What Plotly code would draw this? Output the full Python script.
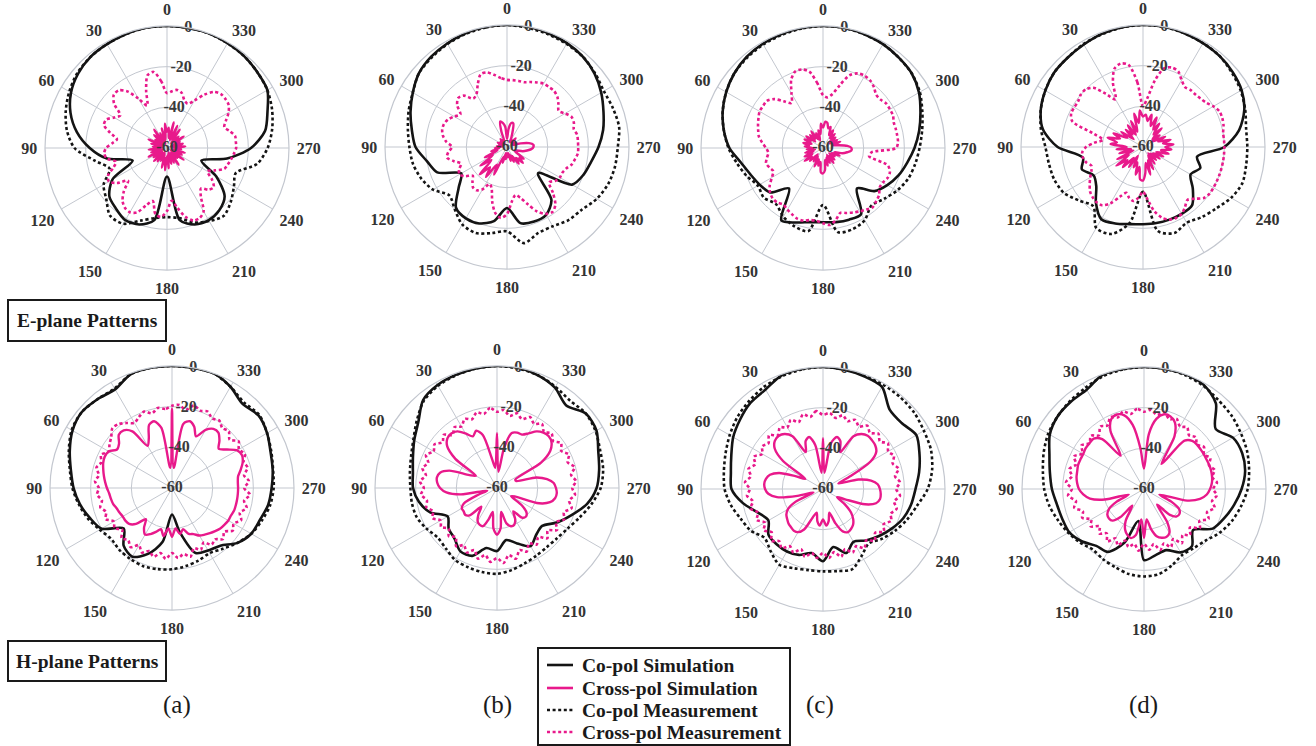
import plotly.graph_objects as go

# ---------------- data ----------------
TH10 = list(range(0, 360, 10))   # co-pol sampling (deg)
TH5 = list(range(0, 360, 5))     # cross-pol sampling (deg)
ANGLE_TICKS = list(range(0, 360, 30))
ANGLE_LABELS = [str(a) for a in ANGLE_TICKS]
RADIAL_TICKS = [-60, -40, -20, 0]
RADIAL_LABELS = ["-60", "-40", "-20", "0"]
RADIAL_LABEL_THETA = 350          # radial labels sit on a spoke 10 deg right of 0
R_RANGE = [-60, 0]
SERIES_NAMES = ["Co-pol Simulation", "Cross-pol Simulation", "Co-pol Measurement", "Cross-pol Measurement"]
PANEL_LABELS = ["(a)", "(b)", "(c)", "(d)"]
ROW_TITLES = ["E-plane Patterns", "H-plane Patterns"]

# ---- E-plane ----
E_A_CO_SIM = [0, 0, -0.5, -1, -1.5, -3, -5.5, -9.5, -15, -22, -30, -42, -29, -23, -21, -19, -20, -24, -46, -24,
              -20, -19, -20, -23, -32, -42, -30, -18.7, -11, -7.4, -3, -2, -1, -0.5, 0, 0]
E_A_CO_MEAS = [0, 0, -0.5, -1, -1.5, -2.5, -4.5, -7, -10, -14.5, -24, -30, -24, -21, -16.5, -17, -22, -25, -26, -25,
               -21, -18.5, -16.5, -19, -22, -24, -15, -10.5, -7.5, -5, -3, -2, -1, -0.5, 0, 0]
E_A_X_SIM = [-52, -48, -56, -50, -58, -52, -57, -49, -55, -51, -58, -53,
             -56, -50, -57, -52, -58, -53, -56, -51, -57, -52, -58, -50,
             -55, -52, -57, -51, -56, -52, -58, -53, -57, -50, -55, -49,
             -56, -50, -57, -52, -58, -52, -56, -50, -57, -53, -55, -50,
             -58, -52, -56, -51, -57, -53, -55, -51, -57, -52, -58, -53,
             -55, -50, -56, -52, -57, -49, -55, -48, -56, -47, -55, -50]
E_A_X_MEAS = [-33, -27, -22, -23, -30, -37, -32, -26, -23, -23, -26, -32,
              -30, -27, -27, -31, -35, -33, -30, -29, -30, -34, -32, -28,
              -27, -30, -35, -30, -26, -24, -23.5, -25, -30, -33, -27, -26,
              -29, -34, -30, -25, -22, -22, -24, -31, -34, -31, -30, -33,
              -37, -34, -30, -29, -28, -27, -26, -26, -26, -28, -30, -28,
              -25, -23, -22.5, -22.5, -24, -28, -33, -36, -35, -32, -31, -32]

E_B_CO_SIM = [0, 0, -0.5, -1.2, -2, -3.5, -6.5, -9.5, -12.5, -15, -20, -23.5, -34, -29, -21, -19.5, -20, -23, -30, -22,
              -21, -21.5, -26, -40, -23, -20, -18, -15, -12, -9.5, -6.5, -3.8, -2, -1, -0.5, 0]
E_B_CO_MEAS = [0, -0.3, -0.8, -1.5, -2.5, -3.5, -6.5, -8.5, -10.5, -12, -13, -15, -18, -23, -20, -16, -15, -17, -18.5, -12,
               -15, -15, -13, -12, -9, -7, -6, -5.5, -4, -4.5, -5, -3.5, -2, -1.5, -1, -0.5]
E_B_X_SIM = [-56, -50, -48, -47, -52, -57, -56, -58, -55, -57, -58, -56,
             -57, -55, -57, -56, -58, -55, -57, -54, -56, -52, -55, -48,
             -52, -44, -50, -41, -47, -42, -50, -45, -55, -52, -57, -54,
             -56, -55, -57, -53, -56, -52, -55, -50, -53, -49, -52, -50,
             -55, -56, -55, -52, -50, -48, -47, -47, -49, -53, -57, -55,
             -57, -56, -57, -54, -57, -56, -57, -55, -52, -48, -48, -51]
E_B_X_MEAS = [-27, -26, -24, -22, -22, -26, -30, -31, -27, -26, -28, -32,
              -30, -28, -27, -27, -28, -30, -33, -31, -30, -33, -36, -34,
              -33, -35, -38, -36, -34, -34, -36, -40, -38, -32, -27, -25,
              -27, -33, -36, -34, -30, -25, -22, -21, -23, -28, -33, -31,
              -30, -30, -29, -27, -26, -25, -25, -25, -25, -26, -25, -25,
              -27, -29, -27, -25, -24, -24, -24, -25, -26, -27, -27, -27]

E_C_CO_SIM = [0, 0, -0.3, -0.8, -1.5, -3, -5, -7.5, -10.5, -14, -19, -22, -24, -26, -34, -19, -21, -23, -23.5, -23,
              -22.5, -22.5, -34, -27, -23.5, -20.5, -18, -15, -12, -9, -5.5, -3, -2, -1, -0.5, 0]
E_C_CO_MEAS = [0, -0.3, -0.8, -1.2, -2, -3, -5, -7.5, -10.5, -13.5, -17, -20, -23, -22, -24, -21, -19, -18.5, -32, -18,
               -17.5, -19, -23, -21, -18, -15.5, -14, -12.5, -10.5, -8, -5, -3, -2, -1, -0.5, 0]
E_C_X_SIM = [-50, -48, -53, -51, -56, -52, -55, -50, -54, -51, -55, -50,
             -53, -50, -54, -50, -53, -51, -55, -52, -56, -51, -55, -50,
             -54, -49, -53, -51, -56, -52, -55, -50, -54, -51, -53, -48,
             -47.5, -49, -54, -51, -55, -52, -56, -51, -55, -52, -56, -53,
             -55, -51, -54, -50, -48, -46, -46, -48, -52, -55, -51, -55,
             -52, -56, -52, -55, -51, -54, -50, -53, -49, -50, -47.5, -47]
E_C_X_MEAS = [-34, -28, -22, -20, -20, -23, -29, -33, -30, -26, -24, -24,
              -24, -25, -26, -27, -28, -30, -32, -33, -32, -31, -32, -33,
              -31, -28, -26, -25, -25, -26, -25, -24, -23, -23, -24, -24,
              -23, -22, -24, -27, -26, -25, -24, -23, -22, -23, -24, -26,
              -26, -25, -25, -27, -37, -36, -24, -23, -23, -23, -23, -22,
              -22, -22, -23, -23, -21, -19.5, -19, -19.5, -22, -28, -33, -35]

E_D_CO_SIM = [0, -0.2, -0.8, -1.8, -2.5, -3, -4.5, -6.5, -10, -18, -30, -28, -32, -30, -24, -19, -20, -21.5, -22, -22,
              -22, -22, -22.5, -28, -33, -30, -33, -20, -12, -7, -4, -2.5, -1.5, -1, -0.5, 0]
E_D_CO_MEAS = [0, -0.3, -1, -1.5, -2.5, -3, -4.5, -6.5, -9, -12, -13, -13.5, -15, -19, -22, -14, -14.5, -22, -38, -18,
               -15, -17, -15, -13, -10, -8, -8.5, -8.7, -8.5, -6.5, -4.5, -3, -1.5, -1, -0.5, 0]
E_D_X_SIM = [-45, -42, -48, -43, -52, -46, -53, -47, -52, -48, -54, -47,
             -51, -44, -48, -42, -47, -44, -52, -47, -54, -48, -55, -46,
             -52, -44, -50, -46, -53, -48, -55, -49, -52, -46, -50, -44,
             -43.5, -47, -52, -46, -53, -48, -55, -50, -56, -51, -55, -50,
             -54, -49, -53, -47, -51, -46, -49, -45, -50, -46, -52, -48,
             -55, -50, -54, -47, -52, -46, -50, -44, -49, -43.5, -47, -44]
E_D_X_MEAS = [-40, -28, -19, -17.5, -19, -25, -33, -28, -22, -20, -20, -21,
              -21, -21, -23, -35, -40, -36, -32, -30, -30, -31, -33, -32,
              -30, -28, -26, -25, -24.5, -25, -28, -33, -36, -34, -33, -35,
              -38, -34, -28, -24, -22, -21.5, -22, -24, -26, -24, -21, -20,
              -20, -20, -20, -20, -20, -20, -20, -20, -20, -19, -18.5, -18.5,
              -20, -22, -23, -23.5, -23.5, -24, -22, -19, -18.4, -20, -27, -36]

# ---- H-plane ----
H_A_CO_SIM = [0, 0, -0.5, -4, -3, -2, -3.5, -6.5, -9.5, -11.6, -14, -17, -20, -29, -23, -21, -25.5, -33, -47, -38,
              -26, -24.5, -23, -18, -15, -14, -12, -11, -9.7, -8.4, -6, -4.5, -6, -2.5, 0, 0]
H_A_CO_MEAS = [0, 0, -0.5, -3.5, -3, -2, -3, -6, -9, -11, -13.5, -16, -19, -21, -20, -19.5, -19, -19.5, -20, -21,
               -22, -23, -21, -18, -15, -13, -11, -10, -9.5, -8, -6, -4, -5, -2.5, 0, 0]
H_A_X_SIM = [-21, -50, -30, -26, -27, -33, -36, -26, -23, -23, -26, -27,
             -24, -23.5, -24, -25, -26, -27, -28, -29, -29.5, -30, -31, -31.5,
             -32, -32, -32.5, -35, -40, -36, -33.5, -35, -37, -39, -36, -40,
             -36, -40, -37, -39, -36, -35, -33, -32, -31, -30, -29, -28.5,
             -28, -28, -27.5, -27.5, -27.5, -27.5, -27.5, -27.5, -27, -25, -23, -22,
             -23, -27, -30, -27, -24.5, -24.5, -27, -32, -28, -26, -28, -50]
H_A_X_MEAS = [-19.5, -21, -20, -22, -20, -21.5, -23, -21, -19, -18.5, -21, -22.5,
              -24, -21.5, -23, -21.5, -23.5, -22, -24, -23, -25, -23.5, -25.5, -24,
              -27, -25.5, -28, -25, -26.5, -24.5, -27.5, -25, -27, -25, -27.5, -25,
              -28, -25.5, -27, -25, -28.5, -26.5, -29, -26, -27, -24.5, -26.5, -23.5,
              -25, -22.5, -24.5, -22, -24, -21.5, -24.5, -22, -24, -21.5, -22.5, -20.5,
              -22, -20, -23, -20.5, -21.5, -19.5, -20.5, -18.5, -19.5, -18, -21, -19]

H_B_CO_SIM = [0, -0.3, -0.8, -1.5, -3.5, -9.5, -13, -16, -18, -18.7, -21, -25, -32, -29, -27.5, -24, -24.5, -30, -29, -34,
              -31, -27, -30, -31, -26, -21, -15, -11, -9, -7, -3.5, -3, -7, -3, -1, 0]
H_B_CO_MEAS = [0, -0.3, -1, -2, -4, -8.5, -12.5, -15, -16.5, -17.4, -17.5, -18, -20, -22, -21, -19, -18.5, -18, -17.8, -19,
               -20.5, -21.5, -22, -21.5, -20, -17, -13, -9, -7, -6, -4, -3, -4, -2.5, -1, -0.3]
H_B_X_SIM = [-33, -50, -45, -33, -30, -32, -29, -26, -25, -25.5, -28, -35,
             -48, -45, -35, -31, -30, -30.5, -32, -35, -42, -55, -50, -42,
             -40, -40, -39.5, -41, -48, -44, -41, -40, -40, -44, -48, -40,
             -37, -40, -48, -42, -40, -40, -42, -46, -41, -40, -41, -45,
             -52, -50, -38, -33, -31, -30.5, -31, -32, -35, -40, -50, -50,
             -35, -28, -25, -24, -24.5, -26, -29, -31, -31, -32, -40, -52]
H_B_X_MEAS = [-22.5, -20.5, -23, -21.5, -24, -22.5, -25, -23.5, -26, -23, -25, -22.5,
              -24, -21.5, -24, -22, -24.5, -22, -24, -22.5, -25, -24, -26.5, -25,
              -28, -26.5, -29, -26.5, -28.5, -25, -27.5, -25, -27.5, -24, -26.5, -23.5,
              -25.5, -23, -26.5, -24, -27.5, -25.5, -28.5, -26, -28.5, -25, -27.5, -24,
              -26.5, -23.5, -25, -22, -24, -21.5, -23, -21, -23, -20.5, -23, -21,
              -23.5, -21.5, -24, -22, -24, -21.5, -23.5, -21.5, -24, -22, -24, -21.5]

H_C_CO_SIM = [0, 0, -0.5, -3.5, -4.6, -6.8, -9, -12, -14, -15, -20, -26, -29, -25, -24.5, -24.5, -25.5, -28, -24.5, -31,
              -26.5, -30, -27, -24, -21, -18, -16, -14.5, -12, -9.5, -7, -9.5, -9, -2, -1, -0.5]
H_C_CO_MEAS = [0, -0.3, -1, -2, -3.5, -5, -7, -9, -10.5, -11.6, -14, -17, -19, -22.5, -20, -17, -18.5, -19.5, -19.5, -19,
               -18, -22, -25, -22, -19, -16, -13, -8.5, -5.5, -3.5, -2.7, -1.5, -1, -0.8, -0.5, -0.3]
H_C_X_SIM = [-35, -52, -38, -33.5, -35, -40, -30, -27, -26, -26.5, -29, -36,
             -50, -45, -37, -33, -31.5, -31, -31.5, -33, -37, -47, -55, -45,
             -40, -38, -37, -36, -35.5, -35, -35.5, -38, -45, -48, -44, -42,
             -45, -42, -44, -48, -42, -37, -35.5, -36, -37, -39, -42, -47,
             -52, -48, -38, -33, -31.5, -31.5, -32, -33, -36, -42, -52, -45,
             -33, -28, -26.5, -26, -25.8, -27, -30, -40, -35, -33.5, -37, -52]
H_C_X_MEAS = [-23.5, -21.5, -24, -22, -25, -22.5, -25, -23, -25.5, -22.5, -25, -23.5,
              -25.5, -22.5, -24.5, -22, -24, -21.5, -24, -22.5, -25, -23, -26, -24,
              -27, -24.5, -27, -24, -26.5, -24.5, -27.5, -25.5, -28.5, -25.5, -28, -26,
              -28.5, -26, -28.5, -25.5, -28.5, -25.5, -27.5, -24.5, -27, -24, -26.5, -23.5,
              -25.5, -23, -24.5, -22.5, -24.5, -22, -24, -22, -24, -21.5, -23.5, -21.5,
              -23, -21, -23.5, -21.5, -24, -22, -24.5, -22.5, -24.5, -22.5, -24.5, -22.5]

H_D_CO_SIM = [0, 0, -0.3, -3.6, -4, -4.5, -6.5, -10.5, -13, -14.7, -16.5, -17.2, -17.5, -20, -23.5, -24.3, -32, -44, -25, -27,
              -28, -24, -23.3, -28.5, -21, -18, -15, -12, -9.5, -8.6, -9.5, -14, -5, -1, 0, 0]
H_D_CO_MEAS = [0, -0.3, -1, -2.5, -3.5, -4.5, -5.6, -7.5, -9.5, -10.9, -12.7, -15, -17, -19, -21, -20, -19, -17.5, -17, -17.5,
               -20, -22.5, -22, -20.5, -17, -14, -11.5, -9, -7.5, -6, -5, -3.8, -3, -1.5, -0.5, 0]
H_D_X_SIM = [-50, -40, -28, -22.5, -21, -22, -27, -40, -28, -25, -25, -25,
             -25.5, -25.5, -25.5, -26, -26.3, -27, -28, -30, -33, -40, -52, -45,
             -40, -38, -37.5, -38, -42, -50, -42, -38, -36, -35, -37, -45,
             -36, -45, -40, -36, -34.5, -34, -35, -40, -50, -42, -39, -38.7,
             -40, -45, -52, -38, -32, -29, -27.5, -26.5, -26, -25.8, -25.8, -26,
             -26, -26, -26, -26.5, -29, -45, -30, -24, -22, -22, -25, -33]
H_D_X_MEAS = [-22, -20.5, -22.5, -20.5, -22.5, -21, -24, -22.5, -25.5, -23, -25, -22.5,
              -25, -22, -24.5, -22, -24, -21.5, -24.5, -22.5, -26, -24.5, -28, -26.5,
              -30, -28, -31.5, -29, -31.5, -28.5, -32, -29.5, -33, -30.5, -32.5, -29.5,
              -33, -30, -32.5, -29, -31.5, -28.5, -31.5, -27.5, -30.5, -28, -30.5, -26.5,
              -28.5, -25, -27, -24, -26, -24, -26, -24, -26, -24, -26, -24,
              -26, -24, -26, -24, -25.5, -23, -24.5, -22, -23.5, -21, -23, -21]

PANELS = [
    (E_A_CO_SIM, E_A_X_SIM, E_A_CO_MEAS, E_A_X_MEAS),
    (E_B_CO_SIM, E_B_X_SIM, E_B_CO_MEAS, E_B_X_MEAS),
    (E_C_CO_SIM, E_C_X_SIM, E_C_CO_MEAS, E_C_X_MEAS),
    (E_D_CO_SIM, E_D_X_SIM, E_D_CO_MEAS, E_D_X_MEAS),
    (H_A_CO_SIM, H_A_X_SIM, H_A_CO_MEAS, H_A_X_MEAS),
    (H_B_CO_SIM, H_B_X_SIM, H_B_CO_MEAS, H_B_X_MEAS),
    (H_C_CO_SIM, H_C_X_SIM, H_C_CO_MEAS, H_C_X_MEAS),
    (H_D_CO_SIM, H_D_X_SIM, H_D_CO_MEAS, H_D_X_MEAS),
]

# ---------------- layout / style ----------------
W, H = 1316, 746
R_DOM = 122
CENTERS = [(167, 148), (507, 147), (823, 148), (1143, 147),
           (172, 488), (497, 488), (823, 489), (1144, 489)]
BLACK = "#141414"
PINK = "#e8198b"
GRID = "#c3c7cf"
SERIF = "Liberation Serif"
STYLES = [
    dict(color=BLACK, width=2.6, dash="solid"),
    dict(color=PINK, width=2.4, dash="solid"),
    dict(color=BLACK, width=2.6, dash="3px,2.6px"),
    dict(color=PINK, width=2.6, dash="3px,2.6px"),
]
GRIDS = [TH10, TH5, TH10, TH5]

fig = go.Figure()
layout_polars = {}
for i, (series, (cx, cy)) in enumerate(zip(PANELS, CENTERS)):
    pname = "polar" if i == 0 else f"polar{i+1}"
    for k, vals in enumerate(series):
        th = GRIDS[k] + [GRIDS[k][0] + 360]
        rr = list(vals) + [vals[0]]
        fig.add_trace(go.Scatterpolar(
            theta=th, r=rr, mode="lines", subplot=pname,
            name=SERIES_NAMES[k], showlegend=False,
            line=dict(color=STYLES[k]["color"], width=STYLES[k]["width"],
                      dash=STYLES[k]["dash"], shape="spline", smoothing=0.8),
            hoverinfo="skip"))
    # radial tick labels, centred on a spoke slightly right of 0 deg
    fig.add_trace(go.Scatterpolar(
        theta=[RADIAL_LABEL_THETA] * len(RADIAL_TICKS), r=RADIAL_TICKS, text=RADIAL_LABELS,
        mode="text", subplot=pname, showlegend=False, cliponaxis=False, hoverinfo="skip",
        textfont=dict(family=SERIF, size=16, color="#3a3a3a", weight="bold")))
    layout_polars[pname] = dict(
        domain=dict(x=[(cx - R_DOM) / W, (cx + R_DOM) / W],
                    y=[(H - cy - R_DOM) / H, (H - cy + R_DOM) / H]),
        bgcolor="white",
        angularaxis=dict(rotation=90, direction="counterclockwise",
                         tickmode="array", tickvals=ANGLE_TICKS, ticktext=ANGLE_LABELS,
                         showgrid=True, gridcolor=GRID, gridwidth=1,
                         showline=True, linecolor=GRID, linewidth=1.2,
                         ticks="outside", ticklen=4, tickcolor="rgba(0,0,0,0)",
                         tickfont=dict(family=SERIF, size=16, color="#333", weight="bold")),
        radialaxis=dict(range=R_RANGE, tickmode="array", tickvals=RADIAL_TICKS,
                        showticklabels=False, showline=False,
                        showgrid=True, gridcolor=GRID, gridwidth=1, ticks=""),
    )

fig.update_layout(**layout_polars)

shapes = []
annotations = []
# row title boxes
for title, (y0, y1) in zip(ROW_TITLES, [(300, 341), (641, 681)]):
    shapes.append(dict(type="rect", xref="paper", yref="paper",
                       x0=8 / W, x1=166 / W, y0=1 - y1 / H, y1=1 - y0 / H,
                       line=dict(color="#1a1a1a", width=2), fillcolor="white", layer="below"))
    annotations.append(dict(text=title, xref="paper", yref="paper", x=87 / W, y=1 - (y0 + y1) / 2 / H,
                            showarrow=False, xanchor="center", yanchor="middle",
                            font=dict(family=SERIF, size=19.5, color="#1a1a1a", weight="bold")))
# panel letters
for lab, x in zip(PANEL_LABELS, [177, 497, 820, 1143]):
    annotations.append(dict(text=lab, xref="paper", yref="paper", x=x / W, y=1 - 705 / H,
                            showarrow=False, xanchor="center", yanchor="middle",
                            font=dict(family=SERIF, size=25, color="#1a1a1a")))

# legend box (manual, matches the figure's boxed key)
LEG_X0, LEG_X1, LEG_Y0, LEG_Y1 = 538, 790, 648, 745
LEG_ROWS = [665, 688, 710, 732]
shapes.append(dict(type="rect", xref="paper", yref="paper",
                   x0=LEG_X0 / W, x1=LEG_X1 / W, y0=1 - LEG_Y1 / H, y1=1 - LEG_Y0 / H,
                   line=dict(color="#1a1a1a", width=2), fillcolor="white", layer="below"))
for k, (name, yrow) in enumerate(zip(SERIES_NAMES, LEG_ROWS)):
    st = STYLES[k]
    shapes.append(dict(type="line", xref="paper", yref="paper",
                       x0=547 / W, x1=573 / W, y0=1 - yrow / H, y1=1 - yrow / H,
                       line=dict(color=st["color"], width=2.6, dash=st["dash"] if k >= 2 else "solid")))
    annotations.append(dict(text=name, xref="paper", yref="paper", x=580 / W, y=1 - yrow / H,
                            showarrow=False, xanchor="left", yanchor="middle",
                            font=dict(family=SERIF, size=19.5, color="#1a1a1a", weight="bold")))

fig.update_layout(
    width=W, height=H, margin=dict(l=0, r=0, t=0, b=0),
    paper_bgcolor="white", plot_bgcolor="white",
    shapes=shapes, annotations=annotations,
    showlegend=False,
)

fig.write_html("out.html",
               config={"displayModeBar": False},
               post_script="document.body.style.margin='0px';document.body.style.overflow='hidden';")
